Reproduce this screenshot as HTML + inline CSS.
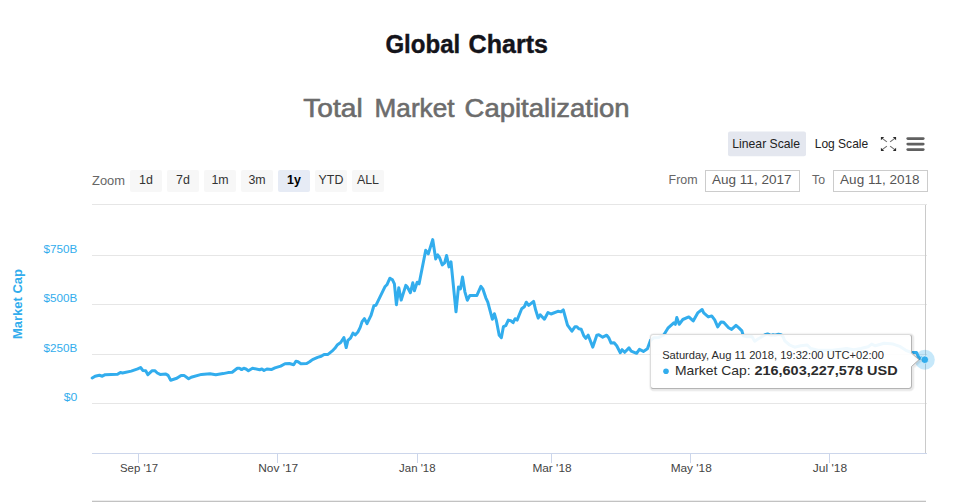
<!DOCTYPE html>
<html><head><meta charset="utf-8"><title>Global Charts</title>
<style>
html,body{margin:0;padding:0;background:#fff;}
body{width:968px;height:502px;overflow:hidden;font-family:"Liberation Sans",sans-serif;}
svg{display:block;}
text{font-family:"Liberation Sans",sans-serif;}
</style></head><body>
<svg width="968" height="502" viewBox="0 0 968 502">
<defs>
<filter id="sh" x="-5%" y="-10%" width="112%" height="130%">
<feDropShadow dx="1" dy="1" stdDeviation="1.2" flood-color="#000" flood-opacity="0.28"/>
</filter>
</defs>
<rect width="968" height="502" fill="#fff"/>
<!-- headings -->
<g font-size="25.2" font-weight="bold" fill="#14141a" stroke="#14141a" stroke-width="0.4">
<text x="385.4" y="52.5" textLength="74.8" lengthAdjust="spacingAndGlyphs">Global</text>
<text x="468.6" y="52.5" textLength="79.3" lengthAdjust="spacingAndGlyphs">Charts</text>
</g>
<g font-size="26.5" fill="#6c6c6c" stroke="#6c6c6c" stroke-width="0.6">
<text x="303.3" y="116.8" textLength="59.4" lengthAdjust="spacingAndGlyphs">Total</text>
<text x="374.6" y="116.8" textLength="79.9" lengthAdjust="spacingAndGlyphs">Market</text>
<text x="464.6" y="116.8" textLength="165" lengthAdjust="spacingAndGlyphs">Capitalization</text>
</g>

<!-- scale buttons -->
<rect x="728" y="131.4" width="78" height="24.8" rx="2" fill="#e4e7ef"/>
<text x="732.3" y="148" font-size="12.8" fill="#222" textLength="67.8" lengthAdjust="spacingAndGlyphs">Linear Scale</text>
<text x="814.7" y="148" font-size="12.8" fill="#222" textLength="53.5" lengthAdjust="spacingAndGlyphs">Log Scale</text>
<!-- fullscreen icon -->
<g stroke="#707070" stroke-width="1.15" fill="none" stroke-linecap="butt">
<path d="M882.2 138.4 L886.9 141.9 M894.8 138.4 L890.1 141.9 M882.2 149.6 L886.9 146.1 M894.8 149.6 L890.1 146.1"/>
</g>
<g fill="#2a2a2a">
<path d="M880.9 136.9 h3.3 l-3.3 3.3z M896.1 136.9 h-3.3 l3.3 3.3z M880.9 151.1 h3.3 l-3.3 -3.3z M896.1 151.1 h-3.3 l3.3 -3.3z"/>
</g>
<!-- hamburger -->
<g fill="#606060"><rect x="906.4" y="137.2" width="18.2" height="2.8" rx="1.4"/><rect x="906.4" y="142.7" width="18.2" height="2.8" rx="1.4"/><rect x="906.4" y="148.2" width="18.2" height="2.8" rx="1.4"/></g>

<!-- zoom row -->
<text x="92" y="185" font-size="12" fill="#666" textLength="33" lengthAdjust="spacingAndGlyphs">Zoom</text>
<g>
<rect x="130" y="170" width="32" height="22" rx="2" fill="#f7f7f7"/>
<rect x="167" y="170" width="32" height="22" rx="2" fill="#f7f7f7"/>
<rect x="204" y="170" width="32" height="22" rx="2" fill="#f7f7f7"/>
<rect x="241" y="170" width="32" height="22" rx="2" fill="#f7f7f7"/>
<rect x="278" y="170" width="32" height="22" rx="2" fill="#e6ebf5"/>
<rect x="315" y="170" width="32" height="22" rx="2" fill="#f7f7f7"/>
<rect x="352" y="170" width="32" height="22" rx="2" fill="#f7f7f7"/>
</g>
<g font-size="12.4" fill="#333" text-anchor="middle">
<text x="146" y="184.3">1d</text>
<text x="183" y="184.3">7d</text>
<text x="220" y="184.3">1m</text>
<text x="257" y="184.3">3m</text>
<text x="294" y="184.3" font-weight="bold" fill="#000">1y</text>
<text x="331" y="184.3">YTD</text>
<text x="368" y="184.3">ALL</text>
</g>
<!-- date inputs -->
<text x="668.6" y="184" font-size="12.5" fill="#666" textLength="29" lengthAdjust="spacingAndGlyphs">From</text>
<rect x="705.5" y="170.5" width="94" height="21" fill="#fff" stroke="#ccc" stroke-width="1"/>
<text x="712" y="184.3" font-size="12.5" fill="#555" textLength="79.5" lengthAdjust="spacingAndGlyphs">Aug 11, 2017</text>
<text x="812.1" y="184" font-size="12.5" fill="#666" textLength="13" lengthAdjust="spacingAndGlyphs">To</text>
<rect x="833.5" y="170.5" width="94" height="21" fill="#fff" stroke="#ccc" stroke-width="1"/>
<text x="840.1" y="184.3" font-size="12.5" fill="#555" textLength="79.5" lengthAdjust="spacingAndGlyphs">Aug 11, 2018</text>

<!-- gridlines -->
<g stroke="#e6e6e6" stroke-width="1" fill="none">
<path d="M92 204.5H927 M92 255.5H927 M92 304.5H927 M92 354.5H927 M92 403.5H927"/>
</g>
<!-- x axis -->
<g stroke="#ccd6eb" stroke-width="1" fill="none">
<path d="M92 453.5H927"/>
<path d="M138.5 453V463 M277.5 453V463 M417.5 453V463 M551.5 453V463 M690.5 453V463 M829.5 453V463"/>
</g>
<!-- crosshair / right border -->
<path d="M925.5 205V453" stroke="#cacaca" stroke-width="1" fill="none"/>
<!-- bottom line -->
<rect x="92" y="500.7" width="834" height="1.3" fill="#c2c2c2"/>

<!-- y labels -->
<g font-size="11" fill="#32ADED" text-anchor="end">
<text x="77.4" y="253" textLength="33.8" lengthAdjust="spacingAndGlyphs">$750B</text>
<text x="77.4" y="302" textLength="33.8" lengthAdjust="spacingAndGlyphs">$500B</text>
<text x="77.4" y="351.5" textLength="33.8" lengthAdjust="spacingAndGlyphs">$250B</text>
<text x="77.4" y="400.6" textLength="13.6" lengthAdjust="spacingAndGlyphs">$0</text>
</g>
<text transform="translate(22.0 339) rotate(-90)" font-size="12" font-weight="bold" fill="#32ADED" textLength="70" lengthAdjust="spacingAndGlyphs">Market Cap</text>
<!-- x labels -->
<g font-size="11" fill="#444" text-anchor="middle">
<text x="139.1" y="472" textLength="38.2" lengthAdjust="spacingAndGlyphs">Sep '17</text>
<text x="278.2" y="472" textLength="40" lengthAdjust="spacingAndGlyphs">Nov '17</text>
<text x="417.3" y="472" textLength="36.4" lengthAdjust="spacingAndGlyphs">Jan '18</text>
<text x="552" y="472" textLength="39.2" lengthAdjust="spacingAndGlyphs">Mar '18</text>
<text x="691.2" y="472" textLength="41.1" lengthAdjust="spacingAndGlyphs">May '18</text>
<text x="830" y="472" textLength="34.3" lengthAdjust="spacingAndGlyphs">Jul '18</text>
</g>

<!-- series -->
<path d="M92.2 378.0 L95.1 376.2 L99.4 375.3 L102.3 376.2 L105.2 374.7 L117.5 374.3 L120.4 372.4 L122.5 373.0 L131.2 371.1 L137.7 368.9 L140.6 367.5 L142.8 370.4 L145.7 370.7 L147.9 374.7 L152.2 370.7 L154.8 370.7 L157.3 373.0 L160.1 374.4 L165.9 374.1 L168.1 375.4 L170.7 380.2 L176.8 378.3 L181.1 375.4 L184.0 375.4 L188.6 378.8 L191.2 377.3 L201.4 374.4 L210.0 373.7 L215.8 374.7 L223.1 373.6 L228.0 372.6 L232.2 372.2 L237.3 368.3 L239.5 368.3 L241.6 369.6 L243.8 368.3 L246.0 369.0 L248.4 370.7 L252.5 368.3 L259.7 369.7 L261.9 369.0 L264.0 370.5 L266.9 369.0 L271.3 369.6 L274.9 367.9 L280.7 366.1 L285.0 363.8 L289.4 363.5 L293.7 364.7 L295.9 361.3 L298.0 361.8 L300.9 363.8 L306.7 363.5 L309.6 361.8 L312.5 359.6 L317.6 357.4 L321.2 356.3 L324.1 354.4 L328.0 354.4 L332.0 351.2 L334.9 348.3 L337.5 344.7 L340.7 342.5 L343.9 337.5 L346.2 347.6 L347.9 340.4 L350.5 338.2 L353.0 333.1 L355.2 334.9 L358.1 331.7 L360.2 327.4 L362.1 321.6 L364.4 318.6 L367.0 323.6 L370.9 315.7 L373.9 305.7 L375.9 305.3 L384.9 286.8 L386.9 284.8 L389.9 278.2 L392.5 279.8 L394.4 283.8 L396.4 304.7 L398.8 287.8 L401.2 300.1 L405.8 285.4 L407.2 286.8 L410.4 292.7 L412.8 282.8 L414.4 290.8 L417.2 282.2 L419.1 283.8 L425.7 250.3 L428.3 253.9 L432.7 239.6 L435.7 258.9 L437.7 254.9 L439.7 257.9 L442.3 264.9 L444.6 262.9 L446.6 255.5 L449.0 266.9 L451.0 261.9 L453.0 281.9 L456.0 311.8 L458.5 286.9 L460.5 288.8 L462.5 276.9 L464.9 291.8 L467.3 300.2 L469.9 295.4 L476.9 295.4 L480.9 286.3 L482.8 288.8 L485.8 297.8 L487.8 302.2 L490.4 311.8 L492.4 319.3 L494.4 313.7 L496.4 320.7 L499.2 335.3 L501.4 337.6 L503.4 326.7 L505.8 325.7 L508.3 320.1 L510.7 320.7 L513.1 322.7 L515.1 318.7 L517.1 320.1 L521.7 308.8 L524.3 306.8 L526.3 302.2 L528.7 305.4 L533.6 301.4 L535.6 309.8 L538.2 318.1 L540.2 314.7 L544.4 319.2 L548.0 312.5 L551.0 314.0 L557.9 311.3 L560.9 311.9 L563.3 309.9 L567.5 325.2 L571.9 331.2 L574.9 326.8 L576.9 326.8 L578.8 328.8 L581.2 329.2 L583.8 335.8 L585.8 338.3 L588.2 335.2 L592.8 347.1 L596.8 335.2 L598.8 334.8 L602.7 337.2 L606.7 335.2 L608.7 337.7 L611.1 343.1 L614.1 342.7 L616.7 345.7 L620.3 352.7 L622.1 349.7 L624.7 352.3 L629.0 347.9 L631.2 351.1 L636.6 353.3 L639.4 349.4 L643.4 351.4 L647.4 348.8 L650.5 340.2 L653.9 337.8 L658.9 337.4 L663.9 334.8 L667.9 328.2 L673.8 322.9 L675.4 324.3 L676.8 317.5 L679.2 324.3 L682.8 319.5 L688.8 316.9 L693.2 320.9 L697.7 312.9 L702.1 309.5 L703.7 312.9 L708.3 316.9 L711.7 315.9 L714.7 319.9 L717.7 326.9 L721.1 321.9 L723.6 322.3 L728.6 327.8 L731.6 329.4 L736.0 325.3 L738.9 327.9 L741.9 330.9 L743.3 335.8 L746.9 336.8 L751.9 336.4 L754.7 341.2 L758.0 339.0 L761.1 337.2 L765.0 334.7 L767.6 333.9 L770.0 334.9 L771.5 335.3 L773.0 334.7 L775.0 335.3 L778.5 334.3 L781.0 334.7 L783.0 336.6 L784.8 340.8 L789.6 345.0 L794.6 347.2 L800.7 345.8 L807.2 345.0 L810.8 348.5 L817.9 350.3 L832.3 350.3 L846.6 348.5 L853.8 349.8 L860.9 348.5 L868.1 346.7 L871.7 344.1 L875.3 345.8 L884.2 343.2 L893.2 344.1 L900.4 346.7 L905.8 350.3 L911.5 352.5 L916.5 352.5 L919.2 358.4 L921.9 358.0 L924.9 359.8" fill="none" stroke="#32ADED" stroke-width="3" stroke-linejoin="round" stroke-linecap="round"/>
<!-- halo + marker -->
<circle cx="924.8" cy="359.7" r="10" fill="#32ADED" fill-opacity="0.28"/>
<circle cx="924.8" cy="359.7" r="3.8" fill="#32ADED" stroke="#fff" stroke-width="0.6"/>

<!-- tooltip -->
<g fill="none" stroke="#000" transform="translate(0.8 0.8)">
<path d="M653 334.5 H909 a2.5 2.5 0 0 1 2.5 2.5 V353 L919 359.8 L911.5 366.5 V386 a2.5 2.5 0 0 1 -2.5 2.5 H653 a2.5 2.5 0 0 1 -2.5 -2.5 V337 a2.5 2.5 0 0 1 2.5 -2.5z" stroke-width="5" stroke-opacity="0.03"/>
<path d="M653 334.5 H909 a2.5 2.5 0 0 1 2.5 2.5 V353 L919 359.8 L911.5 366.5 V386 a2.5 2.5 0 0 1 -2.5 2.5 H653 a2.5 2.5 0 0 1 -2.5 -2.5 V337 a2.5 2.5 0 0 1 2.5 -2.5z" stroke-width="3" stroke-opacity="0.06"/>
</g>
<path d="M653 334.5 H909 a2.5 2.5 0 0 1 2.5 2.5 V353 L919 359.8 L911.5 366.5 V386 a2.5 2.5 0 0 1 -2.5 2.5 H653 a2.5 2.5 0 0 1 -2.5 -2.5 V337 a2.5 2.5 0 0 1 2.5 -2.5z" fill="#fff" fill-opacity="0.92" stroke="#dcdcdc" stroke-width="1"/>
<path d="M910.8 335.2 a2.5 2.5 0 0 1 0.7 1.8 V353 L919 359.8 L911.5 366.5 V386 a2.5 2.5 0 0 1 -2.5 2.5 H653 a2.5 2.5 0 0 1 -1.8 -0.7" fill="none" stroke="#b4b4b4" stroke-width="1"/>
<text x="662.2" y="358.5" font-size="10.4" fill="#2b2b2b" textLength="221.8" lengthAdjust="spacingAndGlyphs">Saturday, Aug 11 2018, 19:32:00 UTC+02:00</text>
<circle cx="666" cy="371.2" r="2.8" fill="#32ADED"/>
<text x="674.9" y="374.6" font-size="13.4" fill="#2b2b2b" textLength="75.7" lengthAdjust="spacingAndGlyphs">Market Cap:</text>
<text x="754.4" y="374.6" font-size="13.4" font-weight="bold" fill="#2b2b2b" textLength="143.2" lengthAdjust="spacingAndGlyphs">216,603,227,578 USD</text>
</svg>
</body></html>
